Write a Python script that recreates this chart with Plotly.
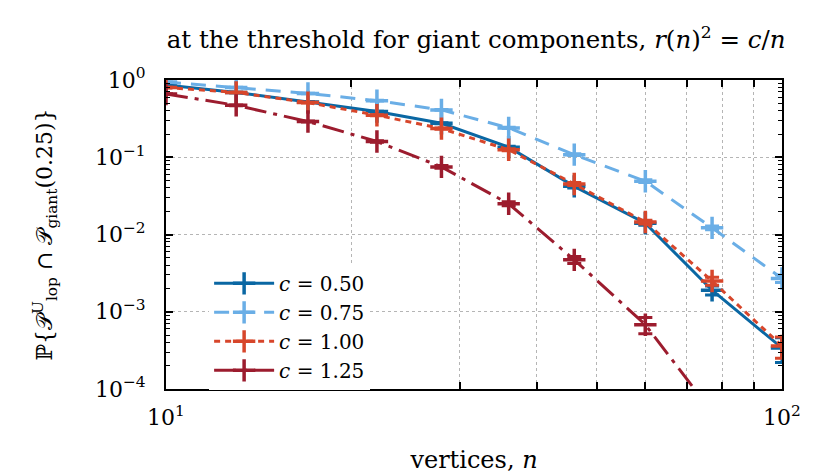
import plotly.graph_objects as go

# data
n_vertices = [10, 13, 17, 22, 28, 36, 46, 60, 77, 100]

p_c050 = [0.86, 0.69, 0.52, 0.39, 0.275, 0.135, 0.042, 0.0140, 0.0019, 0.00034]
e_c050 = [0.004, 0.005, 0.005, 0.005, 0.004, 0.004, 0.002, 0.0008, 0.00025, 0.00012]

p_c075 = [0.94, 0.80, 0.67, 0.54, 0.41, 0.24, 0.108, 0.049, 0.0122, 0.0027]
e_c075 = [0.003, 0.004, 0.005, 0.005, 0.005, 0.004, 0.003, 0.002, 0.0007, 0.0003]

p_c100 = [0.80, 0.69, 0.51, 0.35, 0.235, 0.125, 0.045, 0.0145, 0.0025, 0.00036]
e_c100 = [0.004, 0.005, 0.005, 0.005, 0.004, 0.004, 0.002, 0.0008, 0.0003, 0.00011]

p_c125 = [0.66, 0.47, 0.29, 0.16, 0.075, 0.025, 0.0047, 0.00068, 0.00005, None]
e_c125 = [0.005, 0.005, 0.005, 0.004, 0.003, 0.0015, 0.0005, 0.00016, 0.00002, 0]

series = [
    ("<i>c</i> = 0.50", p_c050, e_c050, "#0a67a3", "solid"),
    ("<i>c</i> = 0.75", p_c075, e_c075, "#6aaee6", "15px,10px"),
    ("<i>c</i> = 1.00", p_c100, e_c100, "#d7462b", "6px,5px"),
    ("<i>c</i> = 1.25", p_c125, e_c125, "#9c1c2e", "22px,7px,4px,7px"),
]

FONT = "DejaVu Serif"

fig = go.Figure()
for name, ys, errs, color, dash in series:
    fig.add_trace(go.Scatter(
        x=n_vertices, y=ys, name=name,
        mode="lines+markers",
        line=dict(color=color, width=3, dash=dash),
        marker=dict(symbol="cross-thin", size=16, line=dict(color=color, width=3.5)),
        error_y=dict(type="data", array=errs, color=color, thickness=3, width=7),
        connectgaps=False,
    ))

y_ticks = [1, 0.1, 0.01, 0.001, 0.0001]
y_text = ["10<sup>0</sup>", "10<sup>−1</sup>", "10<sup>−2</sup>", "10<sup>−3</sup>", "10<sup>−4</sup>"]
y_minor = [m * 10 ** k for k in range(-4, 0) for m in range(2, 10)]
x_minor = [20, 30, 40, 50, 60, 70, 80, 90]

# page body adds an 8px offset, so margins are shifted to compensate
fig.update_layout(
    width=830, height=475,
    margin=dict(l=158, r=56, t=72, b=94),
    plot_bgcolor="#fff", paper_bgcolor="#fff",
    font=dict(family=FONT, size=22, color="#000"),
    title=dict(
        text="at the threshold for giant components, <i>r</i>(<i>n</i>)<sup>2</sup> = <i>c</i>/<i>n</i>",
        x=0.564, xanchor="center", y=0.933, yanchor="middle",
        font=dict(family=FONT, size=24.5),
    ),
    legend=dict(
        x=0.07, y=0.405, xanchor="left", yanchor="top",
        bgcolor="#fff", borderwidth=0,
        font=dict(family=FONT, size=20),
        itemwidth=60, tracegroupgap=0,
    ),
)

fig.update_xaxes(
    type="log", range=[1, 2],
    tickvals=[10, 100], ticktext=["10<sup>1</sup>", "10<sup>2</sup>"],
    tickfont=dict(size=22),
    ticks="inside", ticklen=7, tickwidth=1.5, tickcolor="#000",
    showline=True, linecolor="#000", linewidth=2, mirror="ticks",
    showgrid=True, gridcolor="#b5b5b5", griddash="dot", gridwidth=1,
    minor=dict(tickmode="array", tickvals=x_minor, ticks="inside", ticklen=7,
               tickwidth=1.5, tickcolor="#000",
               showgrid=True, gridcolor="#b5b5b5", griddash="dot", gridwidth=1),
    zeroline=False,
    title=dict(text="vertices, <i>n</i>", standoff=22, font=dict(size=24)),
    ticklabelstandoff=8,
)

fig.update_yaxes(
    type="log", range=[-4, 0],
    tickvals=y_ticks, ticktext=y_text,
    tickfont=dict(size=22),
    ticks="inside", ticklen=7, tickwidth=1.5, tickcolor="#000",
    showline=True, linecolor="#000", linewidth=2, mirror="ticks",
    showgrid=True, gridcolor="#b5b5b5", griddash="dot", gridwidth=1,
    minor=dict(tickmode="array", tickvals=y_minor, ticks="inside", ticklen=4,
               tickwidth=1.2, tickcolor="#000", showgrid=False),
    zeroline=False,
    title=dict(text="ℙ{𝒫<sup>U</sup><sub>lop</sub> ∩ 𝒫<sub>giant</sub>(0.25)}",
               standoff=36, font=dict(size=22)),
    ticklabelstandoff=14,
)

fig.write_html("out.html")
